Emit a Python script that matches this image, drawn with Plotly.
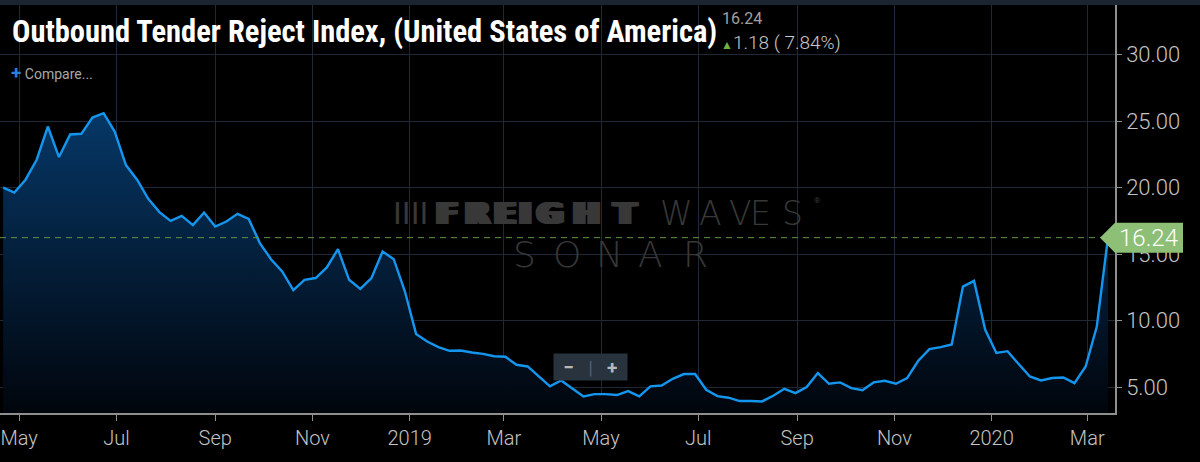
import pandas as pd
import plotly.graph_objects as go

# weekly Outbound Tender Reject Index readings
dates = pd.date_range("2018-04-21", periods=100, freq="7D")
otri = [
    20.0, 19.63, 20.6, 22.1, 24.6, 22.3, 24.0, 24.05, 25.27, 25.6,
    24.2, 21.7, 20.6, 19.16, 18.16, 17.5, 17.88, 17.18, 18.13, 17.08,
    17.45, 18.03, 17.65, 15.83, 14.62, 13.7, 12.3, 13.07, 13.2, 14.0,
    15.38, 13.07, 12.39, 13.2, 15.2, 14.62, 12.19, 9.0, 8.43, 8.0,
    7.73, 7.75, 7.6, 7.5, 7.32, 7.28, 6.68, 6.55, 5.8, 5.05,
    5.5, 4.92, 4.3, 4.47, 4.47, 4.4, 4.7, 4.3, 5.05, 5.12,
    5.62, 5.98, 5.98, 4.8, 4.32, 4.2, 3.95, 3.95, 3.92, 4.35,
    4.87, 4.55, 5.0, 6.05, 5.25, 5.35, 4.92, 4.77, 5.35, 5.47,
    5.25, 5.68, 6.98, 7.86, 8.0, 8.2, 12.56, 12.99, 9.31, 7.56,
    7.7, 6.73, 5.8, 5.5, 5.68, 5.72, 5.3, 6.55, 9.56, 16.24,
]

tick_dates = ["2018-05-01", "2018-07-01", "2018-09-01", "2018-11-01", "2019-01-01",
              "2019-03-01", "2019-05-01", "2019-07-01", "2019-09-01", "2019-11-01",
              "2020-01-01", "2020-03-01"]
tick_text = ["May", "Jul", "Sep", "Nov", "2019", "Mar", "May", "Jul", "Sep", "Nov", "2020", "Mar"]
y_ticks = [5, 10, 15, 20, 25, 30]

title = "Outbound Tender Reject Index, (United States of America)"
last_txt = "16.24"
change_txt = "1.18 ( 7.84%)"

GRID = "#1d2937"
AXIS = "#8f8f8f"
LABEL = "#c4c4c4"
WM = "#383838"
FONT = "Roboto"
PLOT_W = 1115  # plot area width in px (1200 - right margin)

fig = go.Figure()
fig.add_trace(go.Scatter(
    x=dates, y=otri,
    mode="lines",
    line=dict(color="#1596ee", width=2.4),
    fill="tozeroy",
    fillgradient=dict(type="vertical", start=3.0, stop=26,
                      colorscale=[[0, "rgb(1,5,12)"], [1, "rgb(6,56,104)"]]),
    hoverinfo="skip",
    showlegend=False,
))

last = otri[-1]
# dashed line at the latest value
fig.add_hline(y=last, line=dict(color="#62943f", width=1, dash="6px,5px"))

# price tag on the right axis
fig.add_shape(type="path", xref="paper", yref="y", xanchor=1, yanchor=last,
              xsizemode="pixel", ysizemode="pixel",
              path="M -15,0 L 0,15 L 68,15 L 68,-15 L 0,-15 Z",
              fillcolor="#8dbf76", line=dict(width=0), layer="above")
fig.add_annotation(x=1, xref="paper", y=last, yref="y", text=f"{last:.2f}",
                   showarrow=False, xanchor="left", xshift=2,
                   font=dict(family=FONT, size=24, color="white", weight=300))

# top strip
fig.add_shape(type="rect", xref="paper", yref="paper", x0=0, x1=1.1,
              yanchor=1, ysizemode="pixel", y0=0, y1=8,
              fillcolor="#1b2532", line=dict(width=0))

# header texts
fig.add_annotation(xref="paper", yref="paper", x=0, y=1, xanchor="left", yanchor="middle",
                   xshift=10, yshift=-27, text=f"<b>{title}</b>", showarrow=False,
                   font=dict(family="Roboto Condensed, Liberation Sans Narrow, DejaVu Sans Condensed, Roboto",
                             size=30.5, color="white"))
fig.add_annotation(xref="paper", yref="paper", x=0, y=1, xanchor="left", yanchor="middle",
                   xshift=720, yshift=-13, text=last_txt, showarrow=False,
                   font=dict(family=FONT, size=16, color="#a0a0a0"))
fig.add_annotation(xref="paper", yref="paper", x=0, y=1, xanchor="left", yanchor="middle",
                   xshift=719, yshift=-37,
                   text=f"<span style='color:#6db33f;font-size:12px'>▲</span>{change_txt}",
                   showarrow=False, font=dict(family=FONT, size=19, color="#c8c8c8", weight=300))
fig.add_annotation(xref="paper", yref="paper", x=0, y=1, xanchor="left", yanchor="middle",
                   xshift=9, yshift=-67,
                   text="<span style='color:#2a7fd9;font-size:19px'><b>+</b></span> Compare...",
                   showarrow=False, font=dict(family=FONT, size=14, color="#a8a8a8"))

# watermark, one letter at a time (centre x in px)
heavy = dict(family="DejaVu Sans", size=31, color=WM,
             shadow=", ".join(f"{i}px 0 0 {WM}" for i in range(1, 8)))
thin = dict(family="DejaVu Sans, Roboto", size=33, color=WM, weight=200)
sonar = dict(family="DejaVu Sans, Roboto", size=36, color=WM, weight=200)
for ch, px in zip("FREIGHT", [443, 474, 501, 522, 546, 583, 621]):
    fig.add_annotation(xref="paper", yref="paper", x=px / PLOT_W, y=0.489,
                       text=f"<b>{ch}</b>", showarrow=False, font=heavy)
for ch, px in zip("WAVES", [676, 710, 740, 773, 805]):
    fig.add_annotation(xref="paper", yref="paper", x=px / PLOT_W, y=0.489,
                       text=ch, showarrow=False, font=thin)
for ch, px in zip("SONAR", [524, 567, 609, 650, 695]):
    fig.add_annotation(xref="paper", yref="paper", x=px / PLOT_W, y=0.3885,
                       text=ch, showarrow=False, font=sonar)
fig.add_annotation(xref="paper", yref="paper", x=822 / PLOT_W, y=0.52, text="®",
                   showarrow=False, font=dict(family=FONT, size=8, color=WM))
fig.add_annotation(xref="paper", yref="paper", x=410 / PLOT_W, y=0.489, text="IIII",
                   showarrow=False, font=dict(family="DejaVu Sans", size=30, color=WM))

# zoom widget
fig.add_annotation(xref="paper", yref="paper", x=0.5295, y=0.079,
                   text="<b>−</b>   <span style='color:#55606b'>|</span>   <b>+</b>",
                   showarrow=False, bgcolor="#28333e", width=71, height=24,
                   font=dict(family=FONT, size=19, color="#b8b8b8"))

fig.update_layout(
    width=1200, height=462,
    margin=dict(l=0, r=85, t=5, b=49),
    paper_bgcolor="black", plot_bgcolor="black",
    font=dict(family=FONT, color=LABEL),
    hovermode=False,
)
fig.update_xaxes(
    range=["2018-04-19", "2020-03-18 10:00"],
    tickvals=tick_dates, ticktext=tick_text,
    ticklabeloverflow="allow",
    showgrid=True, gridcolor=GRID, gridwidth=1,
    showline=True, linecolor=AXIS, linewidth=1.5,
    ticks="outside", ticklen=6, tickcolor=AXIS,
    tickfont=dict(family=FONT, size=20, color=LABEL, weight=300),
    zeroline=False,
)
fig.update_yaxes(
    range=[3.05, 33.74], side="right",
    tickvals=y_ticks, tickformat=".2f",
    showgrid=True, gridcolor=GRID, gridwidth=1,
    showline=True, linecolor=AXIS, linewidth=1.5,
    ticks="outside", ticklen=5, tickcolor=AXIS,
    tickfont=dict(family=FONT, size=22, color=LABEL, weight=300),
    zeroline=False,
)

fig.write_html("out.html", config={"displayModeBar": False},
               post_script="document.body.style.margin='0';")
